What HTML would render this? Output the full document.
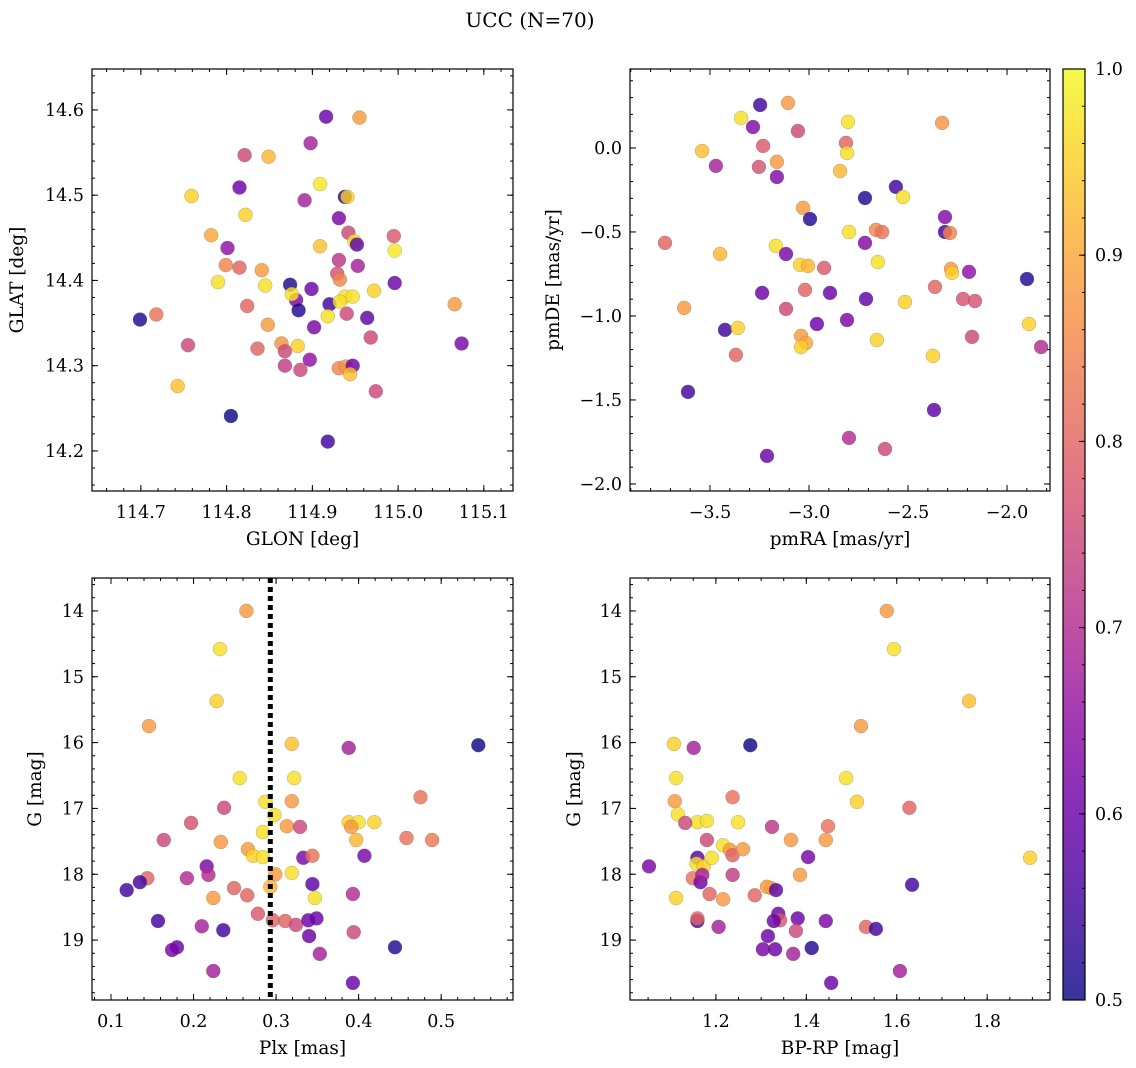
<!DOCTYPE html>
<html><head><meta charset="utf-8"><style>
html,body{margin:0;padding:0;background:#fff;}
svg{display:block;font-family:"DejaVu Serif","Liberation Serif",serif;}
</style></head><body>
<svg id="fig" width="1136" height="1068" viewBox="0 0 1136 1068" xmlns="http://www.w3.org/2000/svg">
<text x="530" y="27" font-size="20" text-anchor="middle">UCC (N=70)</text>
</svg>
<script>
// ---- data ----
const glon=[114.916,114.955,114.821,114.849,114.898,114.759,114.815,114.909,114.938,114.941,114.891,114.822,114.931,114.942,114.949,114.952,114.909,114.995,114.996,114.782,114.801,114.799,114.815,114.841,114.953,114.790,114.874,114.845,114.931,114.929,114.932,114.899,114.996,114.881,114.876,114.884,114.920,114.938,114.947,114.932,114.972,115.066,114.824,114.918,114.940,114.964,114.699,114.718,114.848,114.902,114.968,114.755,114.836,114.864,114.868,114.883,115.074,114.868,114.897,114.886,114.931,114.939,114.947,114.944,114.743,114.974,114.805,114.918];
const glat=[14.592,14.591,14.547,14.545,14.561,14.499,14.509,14.513,14.498,14.498,14.494,14.477,14.473,14.456,14.446,14.442,14.440,14.452,14.435,14.453,14.438,14.418,14.415,14.412,14.417,14.398,14.395,14.394,14.424,14.408,14.401,14.390,14.397,14.377,14.384,14.365,14.372,14.381,14.381,14.375,14.388,14.372,14.370,14.358,14.361,14.356,14.354,14.360,14.348,14.345,14.333,14.324,14.320,14.326,14.317,14.323,14.326,14.300,14.307,14.295,14.297,14.299,14.300,14.290,14.276,14.270,14.241,14.211];
const c1=[0.6,0.88,0.75,0.92,0.68,0.95,0.6,0.98,0.52,0.95,0.68,0.95,0.62,0.75,0.97,0.58,0.93,0.78,0.98,0.9,0.65,0.85,0.8,0.88,0.68,0.97,0.52,0.97,0.72,0.77,0.85,0.6,0.6,0.62,0.97,0.52,0.55,0.97,0.97,0.97,0.95,0.88,0.8,0.97,0.75,0.58,0.52,0.82,0.88,0.62,0.75,0.75,0.8,0.87,0.75,0.95,0.62,0.73,0.65,0.75,0.85,0.87,0.6,0.93,0.93,0.75,0.5,0.55];
const pmra=[-3.247,-3.106,-3.343,-3.283,-3.056,-2.803,-2.328,-2.813,-2.808,-3.232,-3.540,-3.470,-3.253,-3.162,-3.162,-2.843,-2.561,-2.525,-2.717,-3.030,-2.995,-2.313,-2.798,-2.313,-2.288,-2.717,-2.662,-2.631,-3.727,-3.167,-3.449,-3.116,-2.652,-3.045,-3.005,-2.924,-2.283,-2.278,-2.192,-1.899,-2.364,-3.020,-3.237,-2.894,-2.222,-2.162,-2.515,-2.712,-3.631,-3.116,-2.808,-2.960,-1.889,-3.424,-3.359,-2.177,-3.040,-3.015,-3.040,-2.657,-1.828,-3.369,-2.374,-3.611,-2.369,-2.798,-2.616,-3.212];
const pmde=[0.256,0.268,0.179,0.125,0.101,0.155,0.149,0.030,-0.030,0.012,-0.018,-0.107,-0.113,-0.083,-0.173,-0.137,-0.232,-0.292,-0.298,-0.357,-0.423,-0.411,-0.500,-0.500,-0.506,-0.565,-0.488,-0.500,-0.565,-0.583,-0.631,-0.631,-0.679,-0.696,-0.702,-0.714,-0.720,-0.744,-0.738,-0.780,-0.827,-0.845,-0.863,-0.863,-0.899,-0.911,-0.917,-0.899,-0.952,-0.958,-1.024,-1.048,-1.048,-1.083,-1.071,-1.125,-1.119,-1.161,-1.185,-1.143,-1.185,-1.232,-1.238,-1.452,-1.560,-1.726,-1.792,-1.833];
const c2=[0.55,0.88,0.97,0.63,0.75,0.97,0.87,0.8,0.97,0.78,0.93,0.68,0.77,0.88,0.63,0.92,0.55,0.97,0.52,0.88,0.52,0.63,0.97,0.55,0.85,0.63,0.85,0.82,0.8,0.97,0.92,0.62,0.97,0.95,0.92,0.78,0.88,0.95,0.65,0.52,0.8,0.8,0.6,0.6,0.77,0.77,0.95,0.58,0.88,0.75,0.62,0.6,0.95,0.55,0.95,0.75,0.88,0.9,0.95,0.95,0.7,0.8,0.95,0.55,0.58,0.7,0.75,0.6];
const plx=[0.264,0.232,0.228,0.146,0.319,0.388,0.545,0.256,0.322,0.237,0.287,0.298,0.475,0.319,0.388,0.400,0.419,0.391,0.313,0.329,0.197,0.164,0.233,0.284,0.397,0.458,0.489,0.266,0.272,0.284,0.333,0.344,0.407,0.216,0.319,0.299,0.144,0.192,0.218,0.344,0.249,0.293,0.135,0.119,0.265,0.393,0.224,0.347,0.278,0.296,0.311,0.324,0.339,0.349,0.157,0.210,0.236,0.394,0.340,0.444,0.180,0.174,0.353,0.224,0.393];
const g3=[14.00,14.58,15.37,15.75,16.02,16.08,16.04,16.54,16.54,16.99,16.90,17.10,16.83,16.89,17.21,17.21,17.21,17.28,17.27,17.28,17.22,17.48,17.51,17.36,17.48,17.45,17.48,17.62,17.72,17.74,17.75,17.72,17.72,17.88,17.98,18.00,18.06,18.06,18.01,18.15,18.21,18.19,18.12,18.24,18.32,18.30,18.36,18.36,18.60,18.70,18.71,18.77,18.70,18.67,18.71,18.79,18.85,18.88,18.94,19.11,19.11,19.15,19.21,19.47,19.65];
const c3=[0.88,0.97,0.95,0.88,0.93,0.68,0.5,0.97,0.97,0.75,0.97,0.97,0.82,0.88,0.95,0.97,0.95,0.88,0.88,0.75,0.77,0.75,0.88,0.97,0.92,0.82,0.83,0.88,0.95,0.97,0.62,0.82,0.62,0.62,0.97,0.88,0.8,0.7,0.7,0.58,0.8,0.92,0.55,0.55,0.8,0.7,0.88,0.97,0.78,0.8,0.8,0.75,0.6,0.6,0.55,0.68,0.55,0.75,0.6,0.52,0.6,0.62,0.68,0.68,0.6];
const bprp=[1.578,1.594,1.760,1.521,1.107,1.151,1.276,1.112,1.488,1.628,1.109,1.512,1.237,1.116,1.159,1.180,1.132,1.249,1.324,1.448,1.180,1.366,1.443,1.216,1.231,1.237,1.260,1.159,1.157,1.173,1.191,1.404,1.895,1.052,1.112,1.149,1.166,1.170,1.237,1.322,1.313,1.333,1.386,1.634,1.186,1.216,1.286,1.338,1.342,1.328,1.159,1.159,1.381,1.443,1.206,1.377,1.532,1.554,1.315,1.304,1.331,1.412,1.371,1.607,1.455];
const g4=[14.00,14.58,15.37,15.75,16.02,16.08,16.04,16.54,16.54,16.99,16.89,16.90,16.83,17.09,17.21,17.19,17.22,17.21,17.28,17.27,17.48,17.48,17.48,17.56,17.63,17.71,17.62,17.75,17.84,17.88,17.75,17.74,17.75,17.88,18.36,18.06,18.12,18.01,18.01,18.21,18.19,18.24,18.01,18.16,18.30,18.38,18.32,18.60,18.70,18.71,18.71,18.67,18.67,18.71,18.80,18.86,18.80,18.83,18.94,19.14,19.14,19.12,19.21,19.47,19.65];
const c4=[0.88,0.97,0.93,0.88,0.95,0.68,0.5,0.97,0.97,0.8,0.88,0.95,0.82,0.97,0.97,0.97,0.75,0.97,0.72,0.82,0.75,0.88,0.88,0.97,0.88,0.8,0.88,0.58,0.97,0.95,0.97,0.62,0.95,0.62,0.95,0.82,0.6,0.68,0.73,0.92,0.88,0.58,0.88,0.55,0.8,0.88,0.8,0.6,0.78,0.6,0.55,0.8,0.6,0.62,0.68,0.75,0.8,0.55,0.6,0.62,0.6,0.52,0.68,0.68,0.6];
const plxLine=[0.293];
const cbTicks=["0.5","0.6","0.7","0.8","0.9","1.0"];

const NS="http://www.w3.org/2000/svg";
const svg=document.getElementById('fig');
const TF=17.5, LF=18.5;
function mk(t,a,p){const e=document.createElementNS(NS,t);for(const k in a)e.setAttribute(k,a[k]);(p||svg).appendChild(e);return e;}
const stops=[[13,8,135],[65,4,157],[106,0,168],[143,13,164],[177,42,144],[204,71,120],[225,100,98],[242,132,75],[252,166,54],[252,206,37],[240,249,33]];
function plasma(t){t=Math.max(0,Math.min(1,t));const f=t*10,i=Math.min(9,Math.floor(f)),r=f-i;const a=stops[i],b=stops[i+1];
return `rgb(${Math.round(a[0]+(b[0]-a[0])*r)},${Math.round(a[1]+(b[1]-a[1])*r)},${Math.round(a[2]+(b[2]-a[2])*r)})`;}
function cmap(v){return plasma((v-0.5)/0.5);}

function panel(o){
  const {L,T,R,B,x0,x1,y0,y1,name}=o;
  const g=mk('g',{});
  
  
  const sx=v=>L+(v-x0)/(x1-x0)*(R-L);
  const sy=v=>o.inv? T+(v-y0)/(y1-y0)*(B-T) : B-(v-y0)/(y1-y0)*(B-T);
  const pg=mk('g',{},g);
  
  
  for(let i=0;i<o.xs.length;i++){
    const c=mk('circle',{cx:sx(o.xs[i]).toFixed(1),cy:sy(o.ys[i]).toFixed(1),r:7,fill:cmap(o.cs[i]),'fill-opacity':0.82,stroke:'#666','stroke-width':0.4,'stroke-opacity':0.6},pg);
    
    
  }
  if(o.vline){for(const v of o.vline){const l=mk('line',{x1:sx(v),x2:sx(v),y1:T,y2:B,stroke:'#000','stroke-width':5,'stroke-dasharray':'5,4'},g);
    
    }}
  const tg=mk('g',{stroke:'#000','stroke-width':1},g);
  const eps=1e-9;
  function xt(step,len,labels){
    const s=Math.ceil((x0-eps)/step);
    for(let k=s;k*step<=x1+eps;k++){const v=k*step,x=sx(v);
      mk('line',{x1:x,x2:x,y1:B,y2:B-len},tg);mk('line',{x1:x,x2:x,y1:T,y2:T+len},tg);
      if(labels){const t=mk('text',{x:x,y:B+27,'font-size':TF,'text-anchor':'middle',stroke:'none',fill:'#000'},g);t.textContent=(Math.abs(v)<eps?0:v).toFixed(o.xd).replace('-','\u2212');
        }}
  }
  function yt(step,len,labels){
    const lo=Math.min(y0,y1),hi=Math.max(y0,y1);const s=Math.ceil((lo-eps)/step);
    for(let k=s;k*step<=hi+eps;k++){const v=k*step,y=sy(v);
      mk('line',{x1:L,x2:L+len,y1:y,y2:y},tg);mk('line',{x1:R,x2:R-len,y1:y,y2:y},tg);
      if(labels){const t=mk('text',{x:L-8,y:y+6,'font-size':TF,'text-anchor':'end',stroke:'none',fill:'#000'},g);t.textContent=(Math.abs(v)<eps?0:v).toFixed(o.yd).replace('-','\u2212');
        }}
  }
  xt(o.xmaj,6,true);xt(o.xmin,3,false);yt(o.ymaj,6,true);yt(o.ymin,3,false);
  const fr=mk('rect',{x:L,y:T,width:R-L,height:B-T,fill:'none',stroke:'#000','stroke-width':1.2},g);
  
  const xl=mk('text',{x:(L+R)/2,y:B+54,'font-size':LF,'text-anchor':'middle'},g);xl.textContent=o.xlab;
  
  const yx=o.ylx,yc=(T+B)/2;
  const yl=mk('text',{x:yx,y:yc,'font-size':LF,'text-anchor':'middle',transform:`rotate(-90 ${yx} ${yc})`},g);yl.textContent=o.ylab;
  
}
panel({name:'glon-glat-panel',L:92,T:69,R:513,B:491,x0:114.643,x1:115.134,y0:14.153,y1:14.648,xs:glon,ys:glat,cs:c1,xmaj:0.1,xmin:0.02,ymaj:0.1,ymin:0.02,xd:1,yd:1,xlab:'GLON [deg]',ylab:'GLAT [deg]',ylx:23});
panel({name:'pm-panel',L:630,T:69,R:1050,B:491,x0:-3.904,x1:-1.783,y0:-2.042,y1:0.470,xs:pmra,ys:pmde,cs:c2,xmaj:0.5,xmin:0.1,ymaj:0.5,ymin:0.1,xd:1,yd:1,xlab:'pmRA [mas/yr]',ylab:'pmDE [mas/yr]',ylx:559});
panel({name:'plx-g-panel',L:92,T:578,R:513,B:1000,x0:0.077,x1:0.587,y0:13.50,y1:19.91,inv:true,xs:plx,ys:g3,cs:c3,xmaj:0.1,xmin:0.02,ymaj:1,ymin:0.2,xd:1,yd:0,xlab:'Plx [mas]',ylab:'G [mag]',ylx:41,vline:plxLine});
panel({name:'cmd-panel',L:630,T:578,R:1050,B:1000,x0:1.010,x1:1.939,y0:13.50,y1:19.91,inv:true,xs:bprp,ys:g4,cs:c4,xmaj:0.2,xmin:0.05,ymaj:1,ymin:0.2,xd:1,yd:0,xlab:'BP-RP [mag]',ylab:'G [mag]',ylx:580});
// colorbar
const defs=mk('defs',{});const lg=mk('linearGradient',{id:'cbg',x1:0,y1:1,x2:0,y2:0},defs);
for(let i=0;i<=20;i++)mk('stop',{offset:i/20,'stop-color':plasma(i/20),'stop-opacity':0.82},lg);
const cb=mk('g',{});


const cT=69,cB=1000,cL=1063,cR=1085;
mk('rect',{x:cL,y:cT,width:cR-cL,height:cB-cT,fill:'url(#cbg)',stroke:'#000','stroke-width':1.2},cb);
cbTicks.forEach((s,i)=>{const v=parseFloat(s),y=cB-(v-0.5)/0.5*(cB-cT);
  mk('line',{x1:cR,x2:cR-6,y1:y,y2:y,stroke:'#000'},cb);
  const t=mk('text',{x:cR+10,y:y+6,'font-size':TF},cb);t.textContent=s;
  });
for(let k=0;k<=25;k++){const y=cB-k*0.02/0.5*(cB-cT);mk('line',{x1:cR,x2:cR-3,y1:y,y2:y,stroke:'#000'},cb);}
</script>
</body></html>
